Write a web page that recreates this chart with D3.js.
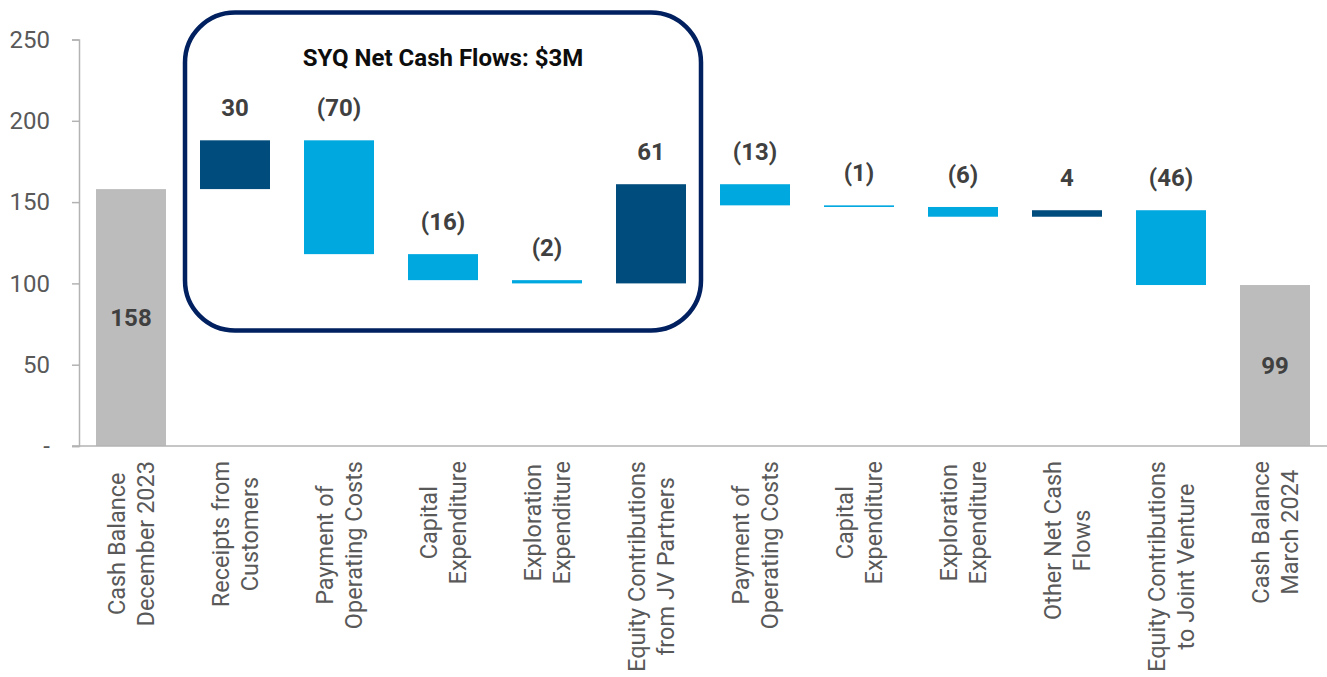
<!DOCTYPE html>
<html>
<head>
<meta charset="utf-8">
<script src="https://cdn.jsdelivr.net/npm/d3@7"></script>
<style>
  html, body { margin: 0; padding: 0; background: #ffffff; }
  svg { display: block; }
</style>
</head>
<body>
<svg id="chart" width="1327" height="677"></svg>
<script>
// ---- data ----
const categories = [
  ["Cash Balance", "December 2023"],
  ["Receipts from", "Customers"],
  ["Payment of", "Operating Costs"],
  ["Capital", "Expenditure"],
  ["Exploration", "Expenditure"],
  ["Equity Contributions", "from JV Partners"],
  ["Payment of", "Operating Costs"],
  ["Capital", "Expenditure"],
  ["Exploration", "Expenditure"],
  ["Other Net Cash", "Flows"],
  ["Equity Contributions", "to Joint Venture"],
  ["Cash Balance", "March 2024"]
];
const values = [158, 30, -70, -16, -2, 61, -13, -1, -6, 4, -46, 99];
const barTypes = ["total", "delta", "delta", "delta", "delta", "delta", "delta", "delta", "delta", "delta", "delta", "total"];
const yTicks = [0, 50, 100, 150, 200, 250];
const yTickLabels = ["-", "50", "100", "150", "200", "250"];
const boxTitle = "SYQ Net Cash Flows: $3M";
const boxFirst = 1, boxLast = 5;

// ---- layout ----
const svg = d3.select("#chart");
const colors = { total: "#bcbcbc", up: "#004c7c", down: "#00a8e0" };
const txt = "#404040";

const x = d3.scaleBand()
  .domain(d3.range(categories.length))
  .range([79, 1327])
  .paddingInner(0.327)
  .paddingOuter(0.1635);

const y = d3.scaleLinear().domain([0, 250]).range([446, 39.5]);

// waterfall computation
let running = 0;
const bars = values.map((v, i) => {
  let lo, hi;
  if (barTypes[i] === "total") { lo = 0; hi = v; running = v; }
  else { const start = running; running += v; lo = Math.min(start, running); hi = Math.max(start, running); }
  return { i, v, lo, hi, type: barTypes[i] };
});

const fmt = v => v < 0 ? "(" + Math.abs(v) + ")" : String(v);

// y axis
const yAxis = d3.axisLeft(y)
  .tickValues(yTicks)
  .tickFormat((d, k) => yTickLabels[k])
  .tickSize(7)
  .tickPadding(22);
const gy = svg.append("g").attr("transform", "translate(79,0)").call(yAxis);
gy.select(".domain").attr("stroke", "#b3b3b3").attr("stroke-width", 1.5);
gy.selectAll(".tick line").attr("stroke", "#b3b3b3").attr("stroke-width", 1.5);
gy.selectAll(".tick text")
  .attr("fill", "#595959")
  .style("font-family", "Roboto")
  .style("font-size", "24px");

// bars
svg.append("g").selectAll("rect").data(bars).join("rect")
  .attr("x", d => x(d.i))
  .attr("width", x.bandwidth())
  .attr("y", d => y(d.hi))
  .attr("height", d => Math.max(1.5, y(d.lo) - y(d.hi)))
  .attr("fill", d => d.type === "total" ? colors.total : (d.v >= 0 ? colors.up : colors.down));

// x axis line
const xAxis = d3.axisBottom(x).tickSize(0).tickFormat("");
const gx = svg.append("g").attr("transform", "translate(0,446)").call(xAxis);
gx.select(".domain").attr("d", "M72,0H1327").attr("stroke", "#b3b3b3").attr("stroke-width", 1.5);

// value labels
svg.append("g").selectAll("text").data(bars).join("text")
  .attr("x", d => x(d.i) + x.bandwidth() / 2)
  .attr("y", d => d.type === "total" ? (y(d.hi) + y(d.lo)) / 2 : y(d.hi) - 24)
  .attr("dy", d => d.type === "total" ? "0.35em" : 0)
  .attr("text-anchor", "middle")
  .attr("fill", txt)
  .style("font-family", "Roboto")
  .style("font-weight", "bold")
  .style("font-size", "24px")
  .text(d => fmt(d.v));

// category labels (rotated)
const lineGap = 29;
const labelTop = 461;
const lg = svg.append("g");
categories.forEach((lines, i) => {
  const cx = x(i) + x.bandwidth() / 2;
  const g = lg.append("g");
  const texts = lines.map((ln, k) => g.append("text")
    .attr("text-anchor", "middle")
    .attr("fill", "#595959")
    .style("font-family", "Roboto")
    .style("font-size", "23.5px")
    .text(ln));
  const maxLen = d3.max(texts, t => t.node().getComputedTextLength());
  const cy = labelTop + maxLen / 2;
  texts.forEach((t, k) => {
    const off = (k - (lines.length - 1) / 2) * lineGap + 8;
    t.attr("transform", `translate(${cx + off},${cy}) rotate(-90)`);
  });
});

// highlight box
const boxLeft = x(boxFirst) - 15;
const boxRight = x(boxLast) + x.bandwidth() + 15;
svg.append("rect")
  .attr("x", boxLeft).attr("y", 12.5)
  .attr("width", boxRight - boxLeft).attr("height", 318)
  .attr("rx", 50).attr("ry", 50)
  .attr("fill", "none")
  .attr("stroke", "#002060")
  .attr("stroke-width", 4.5);

svg.append("text")
  .attr("x", (x(boxFirst) + x(boxLast) + x.bandwidth()) / 2)
  .attr("y", 65.5)
  .attr("text-anchor", "middle")
  .attr("fill", "#0d0d0d")
  .style("font-family", "Roboto")
  .style("font-weight", "bold")
  .style("font-size", "24px")
  .text(boxTitle);
</script>
</body>
</html>
